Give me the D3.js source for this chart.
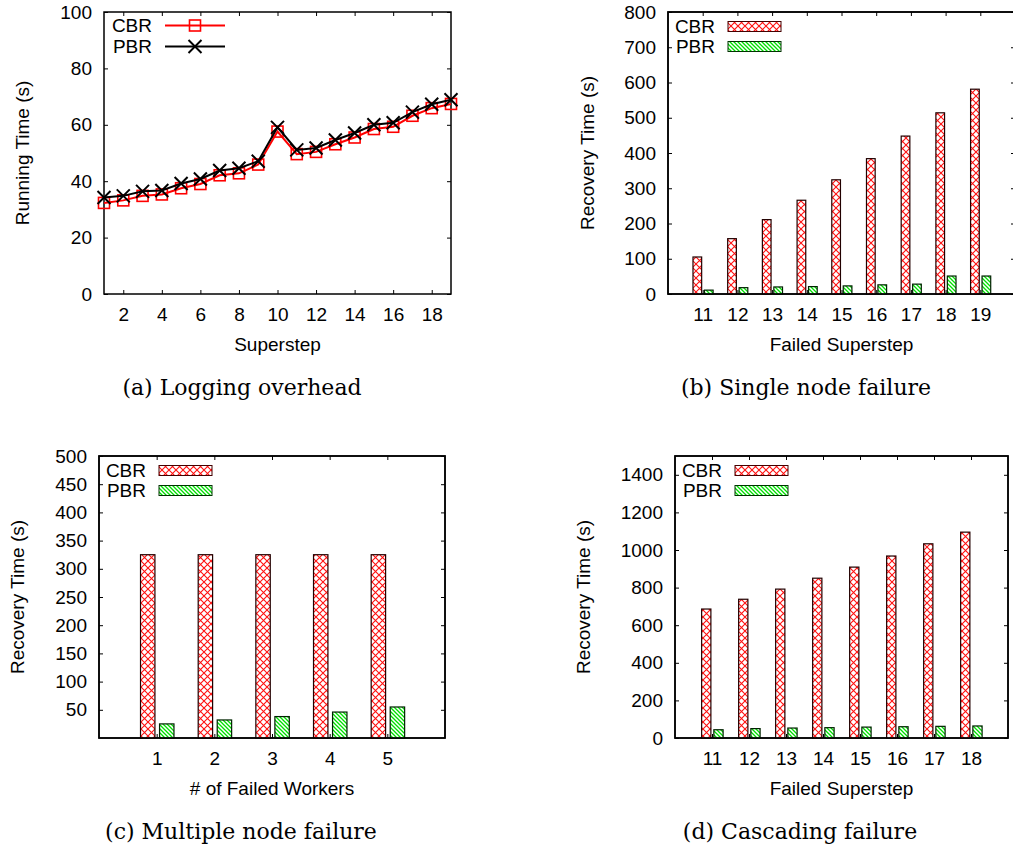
<!DOCTYPE html>
<html>
<head>
<meta charset="utf-8">
<script src="https://cdn.jsdelivr.net/npm/d3@7"></script>
<style>
  body { margin: 0; background: #fff; }
  svg text { font-family: "Liberation Sans", Arial, sans-serif; fill: #000; }
  .caption { font-family: "DejaVu Serif", serif; }
</style>
</head>
<body>
<div id="chart-area"></div>
<script>

// (a) Logging overhead
var stepsA = [1, 2, 3, 4, 5, 6, 7, 8, 9, 10, 11, 12, 13, 14, 15, 16, 17, 18, 19];
var cbrA = [32.3, 33.2, 34.8, 35.3, 37.5, 39, 42.1, 42.8, 45.9, 57.6, 49.6, 50.4, 53.1, 55.5, 58.5, 59.3, 63.2, 65.9, 67.4];
var pbrA = [34.2, 34.8, 36.4, 36.7, 39.2, 40.8, 43.8, 44.6, 47.1, 59.1, 51.1, 51.8, 54.6, 57.1, 60, 60.7, 64.5, 67.3, 68.9];
var ticksA = [2, 4, 6, 8, 10, 12, 14, 16, 18];

// (b) Single node failure
var failedB = [11, 12, 13, 14, 15, 16, 17, 18, 19];
var cbrB = [105, 157, 211, 266, 324, 384, 448, 514, 581];
var pbrB = [11, 18, 20, 21, 23, 26, 28, 51, 51];

// (c) Multiple node failure
var workersC = [1, 2, 3, 4, 5];
var cbrC = [325, 325, 325, 325, 325];
var pbrC = [25, 32, 38, 46, 55];

// (d) Cascading failure
var failedD = [11, 12, 13, 14, 15, 16, 17, 18];
var cbrD = [686, 738, 792, 850, 909, 968, 1033, 1095];
var pbrD = [44, 50, 53, 55, 58, 60, 62, 64];

var seriesNames = ["CBR", "PBR"];

var svg = d3.select("#chart-area").append("svg")
    .attr("width", 1013)
    .attr("height", 853);

// hatch patterns
var defs = svg.append("defs");
var cross = defs.append("pattern")
    .attr("id", "cross")
    .attr("width", 7).attr("height", 7)
    .attr("patternUnits", "userSpaceOnUse");
cross.append("rect").attr("width", 7).attr("height", 7).attr("fill", "#fff");
cross.append("path")
    .attr("d", "M0,0L7,7M7,0L0,7")
    .attr("stroke", "#ff1010")
    .attr("stroke-width", 1.1);

var diag = defs.append("pattern")
    .attr("id", "diag")
    .attr("width", 4).attr("height", 4)
    .attr("patternUnits", "userSpaceOnUse");
diag.append("rect").attr("width", 4).attr("height", 4).attr("fill", "#fff");
diag.append("path")
    .attr("d", "M-1,-1L5,5M-1,3L1,5M3,-1L5,1")
    .attr("stroke", "#00e000")
    .attr("stroke-width", 1.3);

// frame, mirrored inward ticks, labels
function makePanel(box, x, y, xticks, yticks, xlabel, ylabel, ylabelX, caption, captionX) {
  var g = svg.append("g")
      .attr("transform", "translate(" + box.left + "," + box.top + ")");

  g.append("g")
      .attr("transform", "translate(0," + box.height + ")")
      .call(d3.axisBottom(x).tickValues(xticks).tickSize(-4).tickPadding(14).tickFormat(d3.format("d")));
  g.append("g")
      .call(d3.axisTop(x).tickValues(xticks).tickSize(-4).tickFormat(""));
  g.append("g")
      .call(d3.axisLeft(y).tickValues(yticks).tickSize(-4).tickPadding(12).tickFormat(d3.format("d")));
  g.append("g")
      .attr("transform", "translate(" + box.width + ",0)")
      .call(d3.axisRight(y).tickValues(yticks).tickSize(-4).tickFormat(""));

  g.selectAll(".domain").remove();
  g.selectAll(".tick line").attr("stroke", "#000").attr("stroke-width", 1);
  g.selectAll(".tick text").style("font-size", "19px");

  g.append("rect")
      .attr("width", box.width)
      .attr("height", box.height)
      .attr("fill", "none")
      .attr("stroke", "#000")
      .attr("stroke-width", 1.5);

  g.append("text")
      .attr("x", box.width / 2)
      .attr("y", box.height + 57)
      .attr("text-anchor", "middle")
      .style("font-size", "19px")
      .text(xlabel);

  g.append("text")
      .attr("transform", "translate(" + (ylabelX - box.left) + "," + (box.height / 2) + ")rotate(-90)")
      .attr("text-anchor", "middle")
      .attr("dy", "0.35em")
      .style("font-size", "19px")
      .text(ylabel);

  svg.append("text")
      .attr("class", "caption")
      .attr("x", captionX)
      .attr("y", box.top + box.height + 101)
      .attr("text-anchor", "middle")
      .style("font-size", "22px")
      .text(caption);

  return g;
}

// legend with hatched swatches
function barLegend(g) {
  var fills = ["url(#cross)", "url(#diag)"];
  var strokes = ["#400", "#030"];
  seriesNames.forEach(function(name, i) {
    g.append("text")
        .attr("x", 47)
        .attr("y", 14.5 + i * 20)
        .attr("dy", "0.35em")
        .attr("text-anchor", "end")
        .style("font-size", "19px")
        .text(name);
    g.append("rect")
        .attr("x", 60)
        .attr("y", 9.5 + i * 20)
        .attr("width", 53)
        .attr("height", 10)
        .attr("fill", fills[i])
        .attr("stroke", strokes[i])
        .attr("stroke-width", 1);
  });
}

function barPanel(box, cats, cbr, pbr, xDomain, yMax, yticks, xlabel, ylabelX, caption, captionX) {
  var x = d3.scaleLinear().domain(xDomain).range([0, box.width]);
  var y = d3.scaleLinear().domain([0, yMax]).range([box.height, 0]);

  var g = makePanel(box, x, y, cats, yticks, xlabel, "Recovery Time (s)", ylabelX, caption, captionX);

  var groups = [
    {vals: cbr, lo: -0.28, hi: -0.03, fill: "url(#cross)", stroke: "#200"},
    {vals: pbr, lo: 0.05, hi: 0.30, fill: "url(#diag)", stroke: "#020"}
  ];
  groups.forEach(function(s) {
    g.selectAll(null)
        .data(cats)
        .enter().append("rect")
        .attr("x", function(d) { return x(d + s.lo); })
        .attr("width", function(d) { return x(d + s.hi) - x(d + s.lo); })
        .attr("y", function(d, i) { return y(s.vals[i]); })
        .attr("height", function(d, i) { return y(0) - y(s.vals[i]); })
        .attr("fill", s.fill)
        .attr("stroke", s.stroke)
        .attr("stroke-width", 1.2);
  });

  // redraw frame on top of bars
  g.append("rect")
      .attr("width", box.width)
      .attr("height", box.height)
      .attr("fill", "none")
      .attr("stroke", "#000")
      .attr("stroke-width", 1.5);

  barLegend(g);
}

// ---- (a) line chart ----
var boxA = {left: 104, top: 12, width: 347, height: 282};
var xA = d3.scaleLinear().domain([1, 19]).range([0, boxA.width]);
var yA = d3.scaleLinear().domain([0, 100]).range([boxA.height, 0]);
var gA = makePanel(boxA, xA, yA, ticksA, [0, 20, 40, 60, 80, 100], "Superstep", "Running Time (s)", 22, "(a) Logging overhead", 242);

var lineA = function(vals) {
  return d3.line()
      .x(function(d, i) { return xA(stepsA[i]); })
      .y(function(d) { return yA(d); })(vals);
};

function squareMark(sel, cx, cy) {
  sel.append("rect")
      .attr("x", cx - 5.5).attr("y", cy - 5.5)
      .attr("width", 11).attr("height", 11)
      .attr("fill", "none")
      .attr("stroke", "#ff0000")
      .attr("stroke-width", 1.6);
}
function crossMark(sel, cx, cy) {
  sel.append("path")
      .attr("d", "M" + (cx - 6.5) + "," + (cy - 6.5) + "L" + (cx + 6.5) + "," + (cy + 6.5) +
                 "M" + (cx + 6.5) + "," + (cy - 6.5) + "L" + (cx - 6.5) + "," + (cy + 6.5))
      .attr("stroke", "#000")
      .attr("stroke-width", 2);
}

gA.append("path")
    .attr("d", lineA(cbrA))
    .attr("fill", "none")
    .attr("stroke", "#ff0000")
    .attr("stroke-width", 2);
cbrA.forEach(function(d, i) { squareMark(gA, xA(stepsA[i]), yA(d)); });

gA.append("path")
    .attr("d", lineA(pbrA))
    .attr("fill", "none")
    .attr("stroke", "#000")
    .attr("stroke-width", 2);
pbrA.forEach(function(d, i) { crossMark(gA, xA(stepsA[i]), yA(d)); });

// legend (a)
var legendColors = ["#ff0000", "#000"];
seriesNames.forEach(function(name, i) {
  var ly = 13.5 + i * 21;
  gA.append("text")
      .attr("x", 48)
      .attr("y", ly)
      .attr("dy", "0.35em")
      .attr("text-anchor", "end")
      .style("font-size", "19px")
      .text(name);
  gA.append("line")
      .attr("x1", 61).attr("x2", 121)
      .attr("y1", ly).attr("y2", ly)
      .attr("stroke", legendColors[i])
      .attr("stroke-width", 2);
  if (i === 0) squareMark(gA, 91, ly); else crossMark(gA, 91, ly);
});

// ---- (b) ----
barPanel({left: 668, top: 12, width: 347, height: 282}, failedB, cbrB, pbrB, [10, 20], 800,
  [0, 100, 200, 300, 400, 500, 600, 700, 800], "Failed Superstep", 587, "(b) Single node failure", 806);

// ---- (c) ----
barPanel({left: 99, top: 456, width: 346, height: 282}, workersC, cbrC, pbrC, [0, 6], 500,
  [50, 100, 150, 200, 250, 300, 350, 400, 450, 500], "# of Failed Workers", 17, "(c) Multiple node failure", 241);

// ---- (d) ----
barPanel({left: 675, top: 456, width: 333, height: 282}, failedD, cbrD, pbrD, [10, 19], 1500,
  [0, 200, 400, 600, 800, 1000, 1200, 1400], "Failed Superstep", 583, "(d) Cascading failure", 800);

</script>
</body>
</html>
